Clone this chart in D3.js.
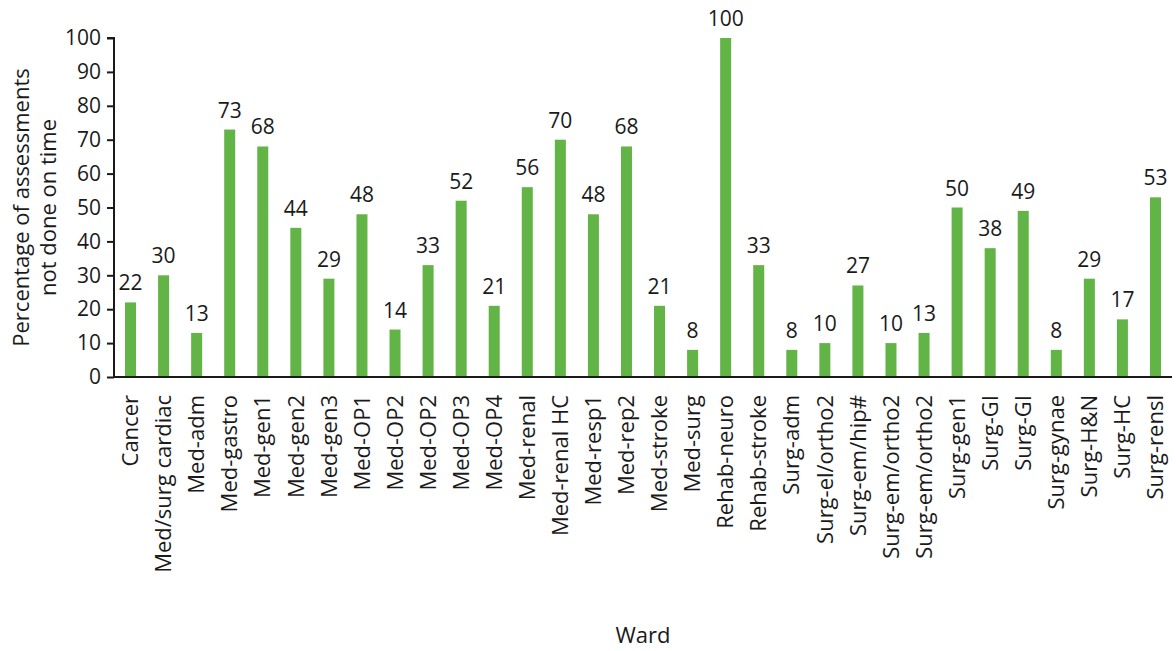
<!DOCTYPE html>
<html><head><meta charset="utf-8">
<script src="https://cdn.jsdelivr.net/npm/d3@7"></script>
<style>
body{margin:0;background:#fff;}
text{font-family:"Open Sans",sans-serif;fill:#1a1a1a;}
</style></head>
<body><svg id="c" width="1176" height="651"></svg>
<script>
const wards = ["Cancer","Med/surg cardiac","Med-adm","Med-gastro","Med-gen1","Med-gen2","Med-gen3","Med-OP1","Med-OP2","Med-OP2","Med-OP3","Med-OP4","Med-renal","Med-renal HC","Med-resp1","Med-rep2","Med-stroke","Med-surg","Rehab-neuro","Rehab-stroke","Surg-adm","Surg-el/ortho2","Surg-em/hip#","Surg-em/ortho2","Surg-em/ortho2","Surg-gen1","Surg-GI","Surg-GI","Surg-gynae","Surg-H&N","Surg-HC","Surg-rensl"];
const values = [22,30,13,73,68,44,29,48,14,33,52,21,56,70,48,68,21,8,100,33,8,10,27,10,13,50,38,49,8,29,17,53];
const yTicks = [0,10,20,30,40,50,60,70,80,90,100];
const yTitle = ["Percentage of assessments","not done on time"];
const xTitle = "Ward";

const svg = d3.select("#c");
const m = {l:114, r:1172, t:38, b:377};
const idx = d3.range(wards.length);
const x = d3.scaleBand().domain(idx).range([m.l, m.r]).paddingInner(0.667).paddingOuter(0.333);
const y = d3.scaleLinear().domain([0,100]).range([m.b, m.t]);

svg.selectAll("rect.bar").data(idx).join("rect").attr("class","bar")
  .attr("x", i => x(i)).attr("width", x.bandwidth())
  .attr("y", i => y(values[i])).attr("height", i => y(0) - y(values[i]))
  .attr("fill", "#62b446");

svg.selectAll("text.val").data(idx).join("text").attr("class","val")
  .attr("x", i => x(i) + x.bandwidth()/2).attr("y", i => y(values[i]) - 12)
  .attr("text-anchor","middle").style("font-size","21px").text(i => values[i]);

const ya = svg.append("g").attr("transform",`translate(${m.l},0)`)
  .call(d3.axisLeft(y).tickValues(yTicks).tickSize(7).tickPadding(6));
ya.selectAll("text").style("font-size","21px").style("font-family","'Open Sans',sans-serif").attr("fill","#1a1a1a");
ya.selectAll("line,path").attr("stroke","#1a1a1a").attr("stroke-width",2);
ya.select(".domain").attr("d",`M-7,${m.t}H0V${m.b}`);

const xa = svg.append("g").attr("transform",`translate(0,${m.b})`)
  .call(d3.axisBottom(x).tickSize(0).tickPadding(0).tickFormat(i => wards[i]));
xa.select(".domain").attr("d",`M${m.l},0H${m.r}`).attr("stroke","#1a1a1a").attr("stroke-width",2);
xa.selectAll("text").style("font-size","22px").style("font-family","'Open Sans',sans-serif").attr("fill","#1a1a1a")
  .attr("transform","rotate(-90)").attr("text-anchor","end").attr("x",-18).attr("y",0).attr("dy","0.35em");

svg.append("text").attr("transform",`translate(0,${(m.t+m.b)/2}) rotate(-90)`)
  .attr("text-anchor","middle").style("font-size","22px")
  .selectAll("tspan").data(yTitle).join("tspan")
  .attr("x",0).attr("y",(d,i)=> 29 + i*27).text(d=>d);

svg.append("text").attr("x",(m.l+m.r)/2).attr("y",643).attr("text-anchor","middle")
  .style("font-size","22px").text(xTitle);
</script></body></html>
